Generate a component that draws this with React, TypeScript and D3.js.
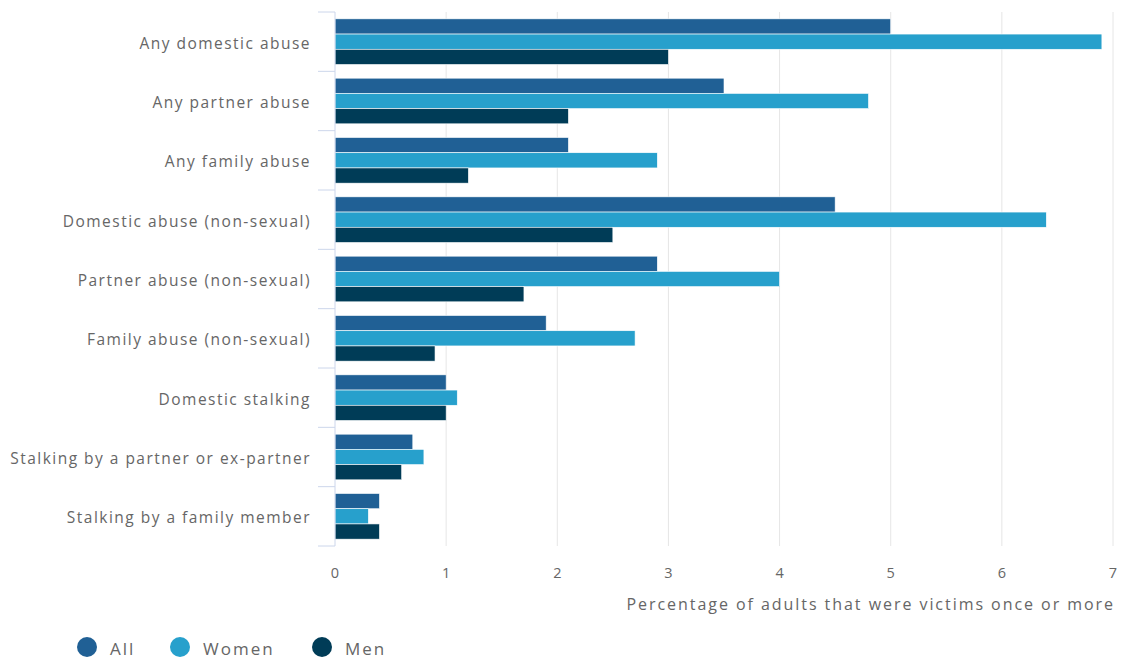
import React from "react";
import * as d3 from "d3";

const categories = [
  "Any domestic abuse",
  "Any partner abuse",
  "Any family abuse",
  "Domestic abuse (non-sexual)",
  "Partner abuse (non-sexual)",
  "Family abuse (non-sexual)",
  "Domestic stalking",
  "Stalking by a partner or ex-partner",
  "Stalking by a family member",
];
const seriesNames = ["All", "Women", "Men"];
const allValues = [5.0, 3.5, 2.1, 4.5, 2.9, 1.9, 1.0, 0.7, 0.4];
const womenValues = [6.9, 4.8, 2.9, 6.4, 4.0, 2.7, 1.1, 0.8, 0.3];
const menValues = [3.0, 2.1, 1.2, 2.5, 1.7, 0.9, 1.0, 0.6, 0.4];
const xTicks = [0, 1, 2, 3, 4, 5, 6, 7];
const colors = ["#206095", "#27a0cc", "#003c57"];
const axisTitle = "Percentage of adults that were victims once or more";

export default function App() {
  const W = 1122, H = 659;
  const left = 335, right = 1113, top = 12, bottom = 546;
  const x = d3.scaleLinear().domain([0, 7]).range([left, right]);
  const y = d3.scaleBand<string>().domain(categories).range([top, bottom]);
  const inner = d3
    .scaleBand<string>()
    .domain(seriesNames)
    .range([0, y.bandwidth()])
    .paddingOuter(0.45)
    .paddingInner(0);
  const seriesValues = [allValues, womenValues, menValues];
  const font = "'Open Sans', sans-serif";
  const textColor = "#666666";
  const legendX = [87, 180, 322];

  return (
    <svg width={W} height={H} style={{ position: "absolute", left: 0, top: 0 }} fontFamily={font}>
      <rect width={W} height={H} fill="#ffffff" />
      {xTicks.slice(1).map((t) => (
        <line key={t} x1={x(t)} x2={x(t)} y1={top} y2={bottom} stroke="#e6e6e6" strokeWidth={1} />
      ))}
      {seriesNames.map((s, si) =>
        categories.map((c, ci) => (
          <rect
            key={s + c}
            x={x(0)}
            y={(y(c) as number) + (inner(s) as number)}
            width={x(seriesValues[si][ci]) - x(0)}
            height={inner.bandwidth()}
            fill={colors[si]}
            stroke="#ffffff"
            strokeWidth={0.6}
          />
        ))
      )}
      <line x1={left} x2={left} y1={top} y2={bottom} stroke="#ccd6eb" strokeWidth={1} />
      {[...categories.map((c) => y(c) as number), bottom].map((v, i) => (
        <line key={i} x1={left - 17} x2={left} y1={v} y2={v} stroke="#ccd6eb" strokeWidth={1} />
      ))}
      {categories.map((c) => (
        <text
          key={c}
          x={311}
          y={(y(c) as number) + y.bandwidth() / 2 + 1}
          textAnchor="end"
          dominantBaseline="central"
          fontSize={15.5}
          letterSpacing={1.48}
          fill={textColor}
        >
          {c}
        </text>
      ))}
      {xTicks.map((t) => (
        <text key={t} x={x(t)} y={572} textAnchor="middle" dominantBaseline="central" fontSize={14.5} fill={textColor}>
          {t}
        </text>
      ))}
      <text
        x={right + 2}
        y={604}
        textAnchor="end"
        dominantBaseline="central"
        fontSize={16}
        letterSpacing={1.95}
        fill={textColor}
      >
        {axisTitle}
      </text>
      {seriesNames.map((s, i) => (
        <g key={s}>
          <circle cx={legendX[i]} cy={647} r={10} fill={colors[i]} />
          <text
            x={legendX[i] + 23}
            y={648}
            dominantBaseline="central"
            fontSize={17}
            letterSpacing={2}
            fill={textColor}
          >
            {s}
          </text>
        </g>
      ))}
    </svg>
  );
}
